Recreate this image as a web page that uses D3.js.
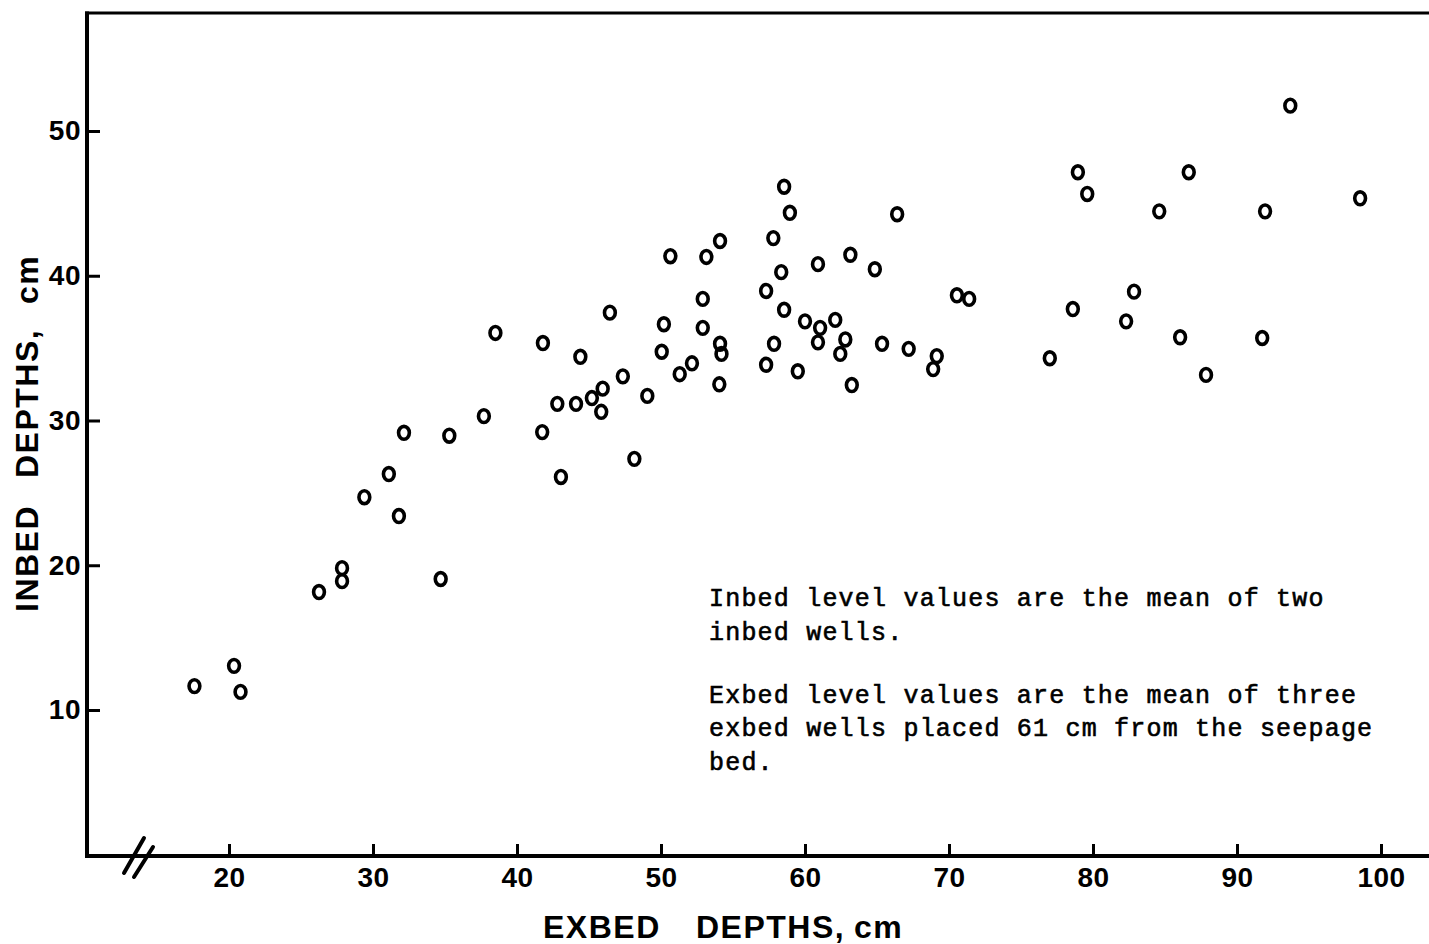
<!DOCTYPE html>
<html>
<head>
<meta charset="utf-8">
<script src="https://cdn.jsdelivr.net/npm/d3@7"></script>
<style>
  html, body { margin: 0; padding: 0; background: #fff; }
  svg { display: block; }
</style>
</head>
<body>
<div id="chart"></div>
<script>
// ---- Data ----
const exbed = [
  17.6, 20.35, 20.8, 26.25, 27.85, 27.85, 29.4, 31.1, 31.8, 32.15,
  34.7, 35.3, 37.7, 38.5, 41.8, 41.75, 42.8, 43.05, 44.1, 44.4,
  45.2, 45.95, 45.85, 46.45, 47.35, 48.15, 49.05, 50.05, 50.2, 50.65,
  51.3, 52.15, 52.9, 52.9, 53.15, 54.1, 54.1, 54.2, 54.05, 57.3,
  57.3, 57.8, 57.85, 58.35, 58.55, 58.55, 58.95, 59.5, 60.0, 60.9,
  61.05, 60.9, 62.1, 62.8, 62.45, 63.25, 63.15, 64.85, 65.35, 66.4,
  67.2, 68.9, 69.15, 70.55, 71.4, 77.0, 78.6, 78.95, 79.6, 82.3,
  82.85, 84.6, 86.05, 86.65, 87.85, 91.95, 91.75, 93.7, 98.55
];
const inbed = [
  11.65, 13.05, 11.25, 18.15, 19.8, 18.9, 24.7, 26.3, 23.4, 29.15,
  19.05, 28.95, 30.3, 36.05, 35.35, 29.2, 31.15, 26.1, 31.15, 34.4,
  31.55, 32.2, 30.6, 37.45, 33.05, 27.35, 31.7, 34.75, 36.65, 41.35,
  33.2, 33.95, 38.4, 36.4, 41.3, 42.4, 35.3, 34.6, 32.5, 33.85,
  38.95, 42.6, 35.3, 40.25, 46.15, 37.65, 44.35, 33.4, 36.85, 40.8,
  36.4, 35.4, 36.95, 35.6, 34.6, 32.45, 41.45, 40.45, 35.3, 44.25,
  34.95, 33.55, 34.45, 38.65, 38.4, 34.3, 37.7, 47.15, 45.65, 36.85,
  38.9, 44.45, 35.75, 47.15, 33.15, 44.45, 35.7, 51.75, 45.35
];
const xTicks = [20, 30, 40, 50, 60, 70, 80, 90, 100];
const yTicks = [10, 20, 30, 40, 50];
const xTitleWords = ["EXBED", "DEPTHS,", "cm"];
const yTitleWords = ["INBED", "DEPTHS,", "cm"];
const noteLines = [
  "Inbed level values are the mean of two",
  "inbed wells.",
  "",
  "Exbed level values are the mean of three",
  "exbed wells placed 61 cm from the seepage",
  "bed."
];

// ---- Layout ----
const W = 1429, H = 944;
const axisLeft = 87, axisBottom = 856, axisTop = 13;

const x = d3.scaleLinear().domain([20, 100]).range([229, 1381]);
const y = d3.scaleLinear().domain([10, 50]).range([710, 131]);

const svg = d3.select("#chart").append("svg")
  .attr("width", W).attr("height", H)
  .attr("viewBox", `0 0 ${W} ${H}`);

const labelFont = "'Liberation Sans', Arial, Helvetica, sans-serif";

// Frame lines
svg.append("line")
  .attr("x1", axisLeft).attr("x2", axisLeft)
  .attr("y1", axisTop - 1.5).attr("y2", axisBottom + 2)
  .attr("stroke", "#000").attr("stroke-width", 4);
svg.append("line")
  .attr("x1", axisLeft - 2).attr("x2", W)
  .attr("y1", axisTop).attr("y2", axisTop)
  .attr("stroke", "#000").attr("stroke-width", 3);
svg.append("line")
  .attr("x1", axisLeft - 2).attr("x2", W)
  .attr("y1", axisBottom).attr("y2", axisBottom)
  .attr("stroke", "#000").attr("stroke-width", 4);

// X axis ticks
const gx = svg.append("g")
  .attr("transform", `translate(0,${axisBottom})`)
  .call(d3.axisBottom(x).tickValues(xTicks).tickSizeInner(-12).tickSizeOuter(0).tickPadding(11));
gx.select(".domain").remove();
gx.selectAll(".tick line").attr("stroke", "#000").attr("stroke-width", 3);
gx.selectAll(".tick text")
  .attr("fill", "#000")
  .style("font-family", labelFont)
  .style("font-weight", "bold")
  .style("font-size", "28px")
  .style("letter-spacing", "0.5px");

// Y axis ticks
const gy = svg.append("g")
  .attr("transform", `translate(${axisLeft},0)`)
  .call(d3.axisLeft(y).tickValues(yTicks).tickSizeInner(-13).tickSizeOuter(0).tickPadding(6));
gy.select(".domain").remove();
gy.selectAll(".tick line").attr("stroke", "#000").attr("stroke-width", 3);
gy.selectAll(".tick text")
  .attr("fill", "#000")
  .style("font-family", labelFont)
  .style("font-weight", "bold")
  .style("font-size", "28px")
  .style("letter-spacing", "0.5px");

// Axis break marks
const brk = svg.append("g").attr("stroke", "#000").attr("stroke-width", 4).attr("stroke-linecap", "round");
brk.append("line").attr("x1", 124).attr("y1", 873).attr("x2", 144).attr("y2", 838);
brk.append("line").attr("x1", 134).attr("y1", 877).attr("x2", 153).attr("y2", 847);

// Axis titles (word offsets along the text direction)
const wordOffsets = [0, 153, 311];
const xt = svg.append("text")
  .attr("transform", "translate(543,938)")
  .style("font-family", labelFont)
  .style("font-weight", "bold")
  .style("font-size", "32px")
  .style("letter-spacing", "1.5px");
xTitleWords.forEach((w, i) => xt.append("tspan").attr("x", wordOffsets[i]).attr("y", 0).text(w));

const yOffsets = [0, 134, 308];
const yt = svg.append("text")
  .attr("transform", "translate(38,612) rotate(-90)")
  .style("font-family", labelFont)
  .style("font-weight", "bold")
  .style("font-size", "32px")
  .style("letter-spacing", "1.5px");
yTitleWords.forEach((w, i) => yt.append("tspan").attr("x", yOffsets[i]).attr("y", 0).text(w));

// Data points (open "o" markers)
const pts = exbed.map((v, i) => ({ x: v, y: inbed[i] }));
svg.append("g").selectAll("ellipse")
  .data(pts).enter().append("ellipse")
  .attr("cx", d => x(d.x))
  .attr("cy", d => y(d.y))
  .attr("rx", 5.4).attr("ry", 6.4)
  .attr("fill", "none")
  .attr("stroke", "#000")
  .attr("stroke-width", 3.6);

// Note text
const note = svg.append("text")
  .style("font-family", "'Liberation Mono', 'DejaVu Sans Mono', monospace")
  .style("font-size", "25px")
  .style("letter-spacing", "1.2px")
  .attr("fill", "#000")
  .attr("stroke", "#000")
  .attr("stroke-width", 0.6);
const noteY = [606, 640, 0, 703, 736, 770];
noteLines.forEach((t, i) => {
  if (!t) return;
  note.append("tspan").attr("x", 709).attr("y", noteY[i]).text(t);
});
</script>
</body>
</html>
